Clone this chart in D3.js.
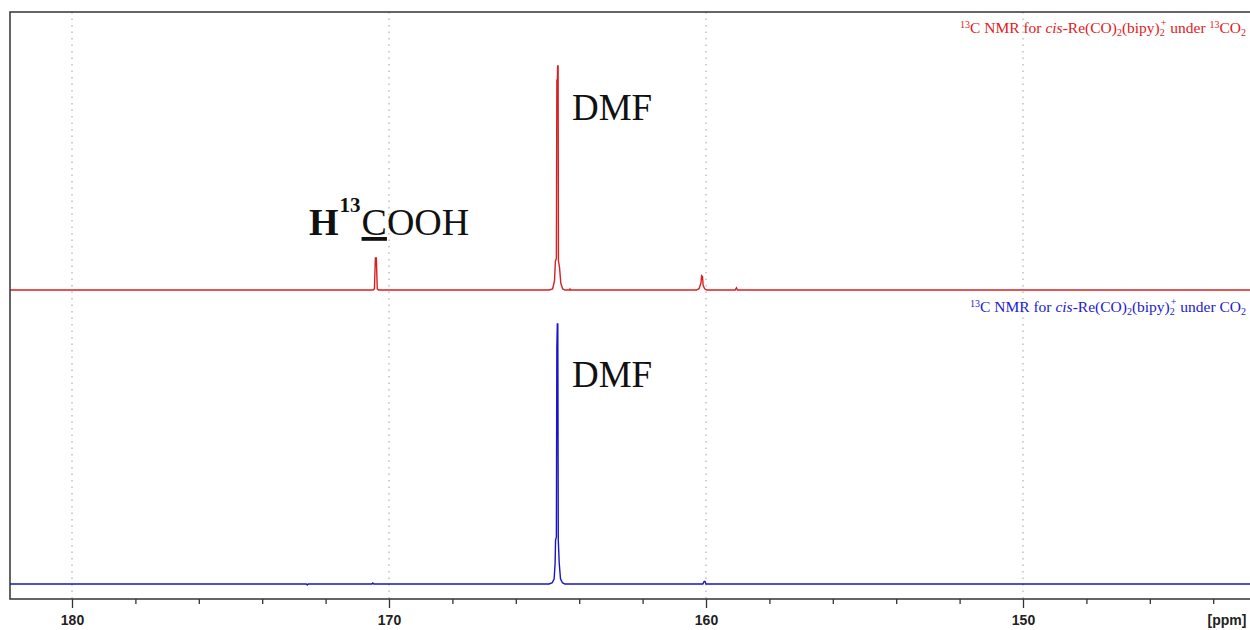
<!DOCTYPE html>
<html>
<head>
<meta charset="utf-8">
<script src="https://cdn.jsdelivr.net/npm/d3@7"></script>
<style>
  body { margin: 0; background: #fff; }
  svg { display: block; }
</style>
</head>
<body>
<div id="chart"></div>
<script>
// spectra, [ppm, relative intensity]
var redSpectrum = [
  [182, 0], [170.50, 0], [170.46, 0.5], [170.43, 14.3], [170.40, 14.3], [170.37, 0.5], [170.33, 0],
  [164.95, 0], [164.84, 0.5], [164.78, 4], [164.75, 13], [164.72, 14], [164.705, 94], [164.69, 93],
  [164.68, 100], [164.665, 100], [164.655, 13], [164.62, 10], [164.58, 3], [164.52, 0.5], [164.45, 0],
  [164.30, 0], [164.29, 0.4], [164.27, 0],
  [160.30, 0], [160.22, 0.6], [160.16, 3], [160.14, 6.4], [160.11, 6], [160.09, 2], [160.04, 0.5], [159.98, 0],
  [159.08, 0], [159.04, 1], [159.01, 0],
  [142.8, 0]
];
var blueSpectrum = [
  [182, 0], [172.61, 0], [172.58, -0.4], [172.55, 0],
  [170.54, 0], [170.51, 0.4], [170.48, 0],
  [164.95, 0], [164.85, 0.5], [164.79, 2], [164.76, 8], [164.745, 17], [164.72, 18], [164.705, 91],
  [164.69, 100], [164.675, 100], [164.66, 17], [164.63, 8], [164.59, 2], [164.53, 0.5], [164.45, 0],
  [160.10, 0], [160.06, 1], [160.03, 1], [160.0, 0],
  [142.8, 0]
];
var majorTicks = [180, 170, 160, 150];
var minorTicks = [178, 176, 174, 172, 168, 166, 164, 162, 158, 156, 154, 152, 148, 146, 144];
var peakLabels = ["DMF", "DMF"];

var width = 1250;
var height = 630;
var plotLeft = 10;
var plotRight = 1250;
var plotTop = 12;
var plotBottom = 599;

var svg = d3.select("#chart")
  .append("svg")
  .attr("width", width)
  .attr("height", height);

var xScale = d3.scaleLinear().domain([180, 150]).range([72, 1023]);
var yRed = d3.scaleLinear().domain([0, 100]).range([290, 66]);
var yBlue = d3.scaleLinear().domain([0, 100]).range([584, 324]);

svg.append("clipPath").attr("id", "plotClip")
  .append("rect")
  .attr("x", plotLeft)
  .attr("y", plotTop)
  .attr("width", plotRight - plotLeft)
  .attr("height", plotBottom - plotTop);

// dotted grid
svg.append("g").selectAll("line")
  .data(majorTicks)
  .enter()
  .append("line")
  .attr("x1", function(d) { return xScale(d); })
  .attr("x2", function(d) { return xScale(d); })
  .attr("y1", plotTop)
  .attr("y2", plotBottom)
  .attr("stroke", "#b0b0b0")
  .attr("stroke-width", 1.2)
  .attr("stroke-dasharray", "1.5,5");

// spectra
var plot = svg.append("g").attr("clip-path", "url(#plotClip)");

var redLine = d3.line()
  .x(function(d) { return xScale(d[0]); })
  .y(function(d) { return yRed(d[1]); });
var blueLine = d3.line()
  .x(function(d) { return xScale(d[0]); })
  .y(function(d) { return yBlue(d[1]); });

plot.append("path")
  .attr("d", redLine(redSpectrum))
  .attr("fill", "none")
  .attr("stroke", "#d82020")
  .attr("stroke-width", 1.4);

plot.append("path")
  .attr("d", blueLine(blueSpectrum))
  .attr("fill", "none")
  .attr("stroke", "#1616c8")
  .attr("stroke-width", 1.4);

// frame
svg.append("path")
  .attr("d", "M" + plotRight + "," + plotTop + "H" + plotLeft + "V" + plotBottom + "H" + plotRight)
  .attr("fill", "none")
  .attr("stroke", "#333")
  .attr("stroke-width", 1.5);

// x axis
var xAxisMajor = d3.axisBottom(xScale)
  .tickValues(majorTicks)
  .tickSize(9)
  .tickPadding(7)
  .tickFormat(d3.format("d"));
var xAxisMinor = d3.axisBottom(xScale)
  .tickValues(minorTicks)
  .tickSize(5)
  .tickFormat("");

var gMinor = svg.append("g")
  .attr("transform", "translate(0," + plotBottom + ")")
  .call(xAxisMinor);
var gMajor = svg.append("g")
  .attr("transform", "translate(0," + plotBottom + ")")
  .call(xAxisMajor);
[gMinor, gMajor].forEach(function(g) {
  g.select(".domain").remove();
  g.selectAll(".tick line").attr("stroke", "#333").attr("stroke-width", 1.3);
});
gMajor.selectAll(".tick text")
  .attr("font-family", "Liberation Sans, Arial, sans-serif")
  .attr("font-weight", "bold")
  .attr("font-size", 14)
  .attr("fill", "#222");

svg.append("text")
  .attr("x", 1227)
  .attr("y", 625)
  .attr("text-anchor", "middle")
  .attr("font-family", "Liberation Sans, Arial, sans-serif")
  .attr("font-weight", "bold")
  .attr("font-size", 14)
  .attr("fill", "#222")
  .text("[ppm]");

// legend titles
function spectrumTitle(y, color, labelled) {
  var t = svg.append("text")
    .attr("x", 1246)
    .attr("y", y)
    .attr("text-anchor", "end")
    .attr("font-family", "Liberation Serif, Times New Roman, serif")
    .attr("font-size", 15.5)
    .attr("fill", color);
  t.append("tspan").attr("font-size", 10).attr("dy", -5).text("13");
  t.append("tspan").attr("dy", 5).text("C NMR for ");
  t.append("tspan").attr("font-style", "italic").text("cis");
  t.append("tspan").text("-Re(CO)");
  t.append("tspan").attr("font-size", 10).attr("dy", 3).text("2");
  t.append("tspan").attr("dy", -3).text("(bipy)");
  t.append("tspan").attr("font-size", 10).attr("dy", 3).text("2");
  t.append("tspan").attr("font-size", 10).attr("dx", -4).attr("dy", -10).text("+");
  t.append("tspan").attr("dy", 7).text(" under ");
  if (labelled) {
    t.append("tspan").attr("font-size", 10).attr("dy", -5).text("13");
    t.append("tspan").attr("dy", 5).text("CO");
  }
  else {
    t.append("tspan").text("CO");
  }
  t.append("tspan").attr("font-size", 10).attr("dy", 3).text("2");
}
spectrumTitle(33, "#e02020", true);
spectrumTitle(312, "#2020d0", false);

// peak labels
var serif = "Liberation Serif, Times New Roman, serif";
svg.append("text")
  .attr("x", 572).attr("y", 120)
  .attr("font-family", serif).attr("font-size", 37).attr("fill", "#111")
  .text(peakLabels[0]);
svg.append("text")
  .attr("x", 572).attr("y", 387)
  .attr("font-family", serif).attr("font-size", 37).attr("fill", "#111")
  .text(peakLabels[1]);

var formic = svg.append("text")
  .attr("x", 309).attr("y", 235)
  .attr("font-family", serif).attr("font-size", 38).attr("fill", "#111");
formic.append("tspan").attr("font-weight", "bold").text("H");
formic.append("tspan").attr("font-weight", "bold").attr("font-size", 21)
  .attr("dx", 1).attr("dy", -23).text("13");
formic.append("tspan").attr("dx", 1).attr("dy", 23)
  .attr("text-decoration", "underline").text("C");
formic.append("tspan").text("OOH");
</script>
</body>
</html>
